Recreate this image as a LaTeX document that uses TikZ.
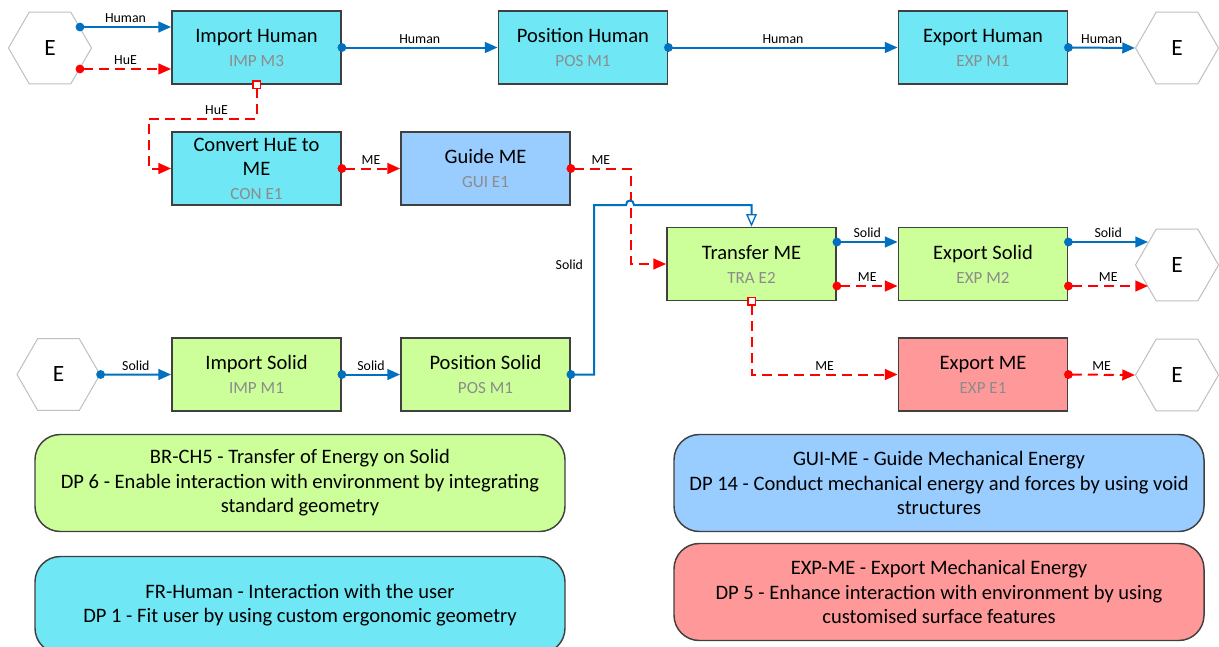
\documentclass[tikz,border=0pt]{standalone}
\usepackage{fontspec}
\setmainfont{Carlito}
\usetikzlibrary{arrows.meta,positioning,shapes.geometric}
\definecolor{fnblue}{HTML}{0070C0}
\definecolor{fnred}{HTML}{FF0000}
\definecolor{fncyan}{HTML}{6FE7F4}
\definecolor{fngreen}{HTML}{CCFF99}
\definecolor{fnsky}{HTML}{99CCFF}
\definecolor{fnpink}{HTML}{FF9999}
\definecolor{fngray}{HTML}{404040}
\definecolor{codegray}{HTML}{8C8C8C}
\definecolor{hexgray}{HTML}{BFBFBF}
\newcommand{\fncode}[1]{{\color{codegray}\fontsize{12.8}{18}\selectfont #1}}

\begin{document}
\begin{tikzpicture}[
    x=0.75pt,
    y=-0.75pt,
    fn/.style={rectangle, draw=fngray, line width=1.1pt, minimum width=127pt, minimum height=54.75pt, align=center, font=\fontsize{15.4}{18}\selectfont},
    env/.style={regular polygon, regular polygon sides=6, draw=hexgray, line width=0.75pt, fill=white, minimum size=62.25pt, inner sep=0pt, font=\fontsize{17.5}{20}\selectfont},
    flow/.style={line width=1.5pt, draw=fnblue, {Circle[length=6.5pt]}-{Triangle[length=9.5pt, width=8pt]}, shorten <=-3.25pt},
    energy/.style={line width=1.5pt, draw=fnred, dash pattern=on 7.5pt off 4.5pt, {Circle[length=6.5pt]}-{Triangle[length=9.5pt, width=8pt]}, shorten <=-3.25pt},
    port/.style={{Square[fill=white, length=6.5pt, width=6.5pt, line width=1pt]}-{Triangle[length=9.5pt, width=8pt]}},
    lab/.style={font=\fontsize{10.4}{12}\selectfont, inner sep=2.5pt},
    legend/.style={rectangle, rounded corners=19pt, draw=fngray, line width=1.1pt, minimum width=397.5pt, minimum height=72.75pt, align=center, font=\fontsize{15.4}{18.4}\selectfont}
  ]
    \path[use as bounding box, clip] (0,0) rectangle (1219,646);

    \node[env] (envHum) at (50,48) {E};
    \node[fn, fill=fncyan] (impHum) at (256.5,47.5) {Import Human\\\fncode{IMP M3}};
    \node[fn, fill=fncyan] (posHum) at (583,47.5) {Position Human\\\fncode{POS M1}};
    \node[fn, fill=fncyan] (expHum) at (983,47.5) {Export Human\\\fncode{EXP M1}};
    \node[env] (envHumOut) at (1177,48) {E};
    \node[fn, fill=fncyan] (conHuE) at (256.5,168.5) {Convert HuE to\\ME\\\fncode{CON E1}};
    \node[fn, fill=fnsky] (guiME) at (485.5,168.5) {Guide ME\\\fncode{GUI E1}};
    \node[fn, fill=fngreen] (traME) at (751.5,264) {Transfer ME\\\fncode{TRA E2}};
    \node[fn, fill=fngreen] (expSol) at (983,264) {Export Solid\\\fncode{EXP M2}};
    \node[env] (envSolOut) at (1177,265) {E};
    \node[env] (envSol) at (58.5,374.5) {E};
    \node[fn, fill=fngreen] (impSol) at (256.5,374.5) {Import Solid\\\fncode{IMP M1}};
    \node[fn, fill=fngreen] (posSol) at (485.5,374.5) {Position Solid\\\fncode{POS M1}};
    \node[fn, fill=fnpink] (expME) at (983,374.5) {Export ME\\\fncode{EXP E1}};
    \node[env] (envMEOut) at (1177,375) {E};

    \draw[flow] (envHum.35) -- node[lab, above] {Human} (envHum.35 -| impHum.west);
    \draw[energy] (envHum.-35) -- node[lab, above] {HuE} (envHum.-35 -| impHum.west);
    \draw[flow] (impHum.east) -- node[lab, above] {Human} (posHum.west);
    \draw[flow] (posHum.east) -- node[lab, above] {Human} (expHum.west);
    \draw[flow] (expHum.east) -- node[lab, above] {Human} (envHumOut.west);
    \draw[energy, port] (impHum.south) -- ++(0,34) -- node[lab, above, pos=0.37] {HuE} ++(-108,0) |- (conHuE.west);
    \draw[energy] (conHuE.east) -- node[lab, above] {ME} (guiME.west);
    \draw[energy] (guiME.east) -- node[lab, above] {ME} ++(60,0) |- (traME.west);
    \draw[flow, {Circle[length=6.5pt]}-{Triangle[open, length=9.5pt, width=8pt, line width=1pt]}] (posSol.east) -| (594,265) node[lab, left=5pt] {Solid} -- (594,205) -- (626,205) .. controls (626,199) and (634,199) .. (634,205) -| (traME.north);
    \draw[flow] ([yshift=16.5pt]traME.east) -- node[lab, above] {Solid} ([yshift=16.5pt]expSol.west);
    \draw[energy] ([yshift=-16.5pt]traME.east) -- node[lab, above] {ME} ([yshift=-16.5pt]expSol.west);
    \draw[flow] ([yshift=16.5pt]expSol.east) -- node[lab, above] {Solid} ([yshift=16.5pt]expSol.east -| envSolOut.142);
    \draw[energy] ([yshift=-16.5pt]expSol.east) -- node[lab, above] {ME} ([yshift=-16.5pt]expSol.east -| envSolOut.-142);
    \draw[energy, port] (traME.south) |- node[lab, above, pos=0.75] {ME} (expME.west);
    \draw[energy] (expME.east) -- node[lab, above] {ME} (envMEOut.west);
    \draw[flow] (envSol.east) -- node[lab, above] {Solid} (impSol.west);
    \draw[flow] (impSol.east) -- node[lab, above] {Solid} (posSol.west);

    \node[legend, fill=fngreen] (lgSolid) at (300,483) {BR-CH5 - Transfer of Energy on Solid\\DP 6 - Enable interaction with environment by integrating\\standard geometry};
    \node[legend, fill=fncyan] (lgHuman) at (300,605) {FR-Human - Interaction with the user\\DP 1 - Fit user by using custom ergonomic geometry};
    \node[legend, fill=fnsky] (lgGuide) at (939,483) {GUI-ME - Guide Mechanical Energy\\DP 14 - Conduct mechanical energy and forces by using void\\structures};
    \node[legend, fill=fnpink] (lgExport) at (939,592) {EXP-ME - Export Mechanical Energy\\DP 5 - Enhance interaction with environment by using\\customised surface features};
  \end{tikzpicture}
\end{document}
